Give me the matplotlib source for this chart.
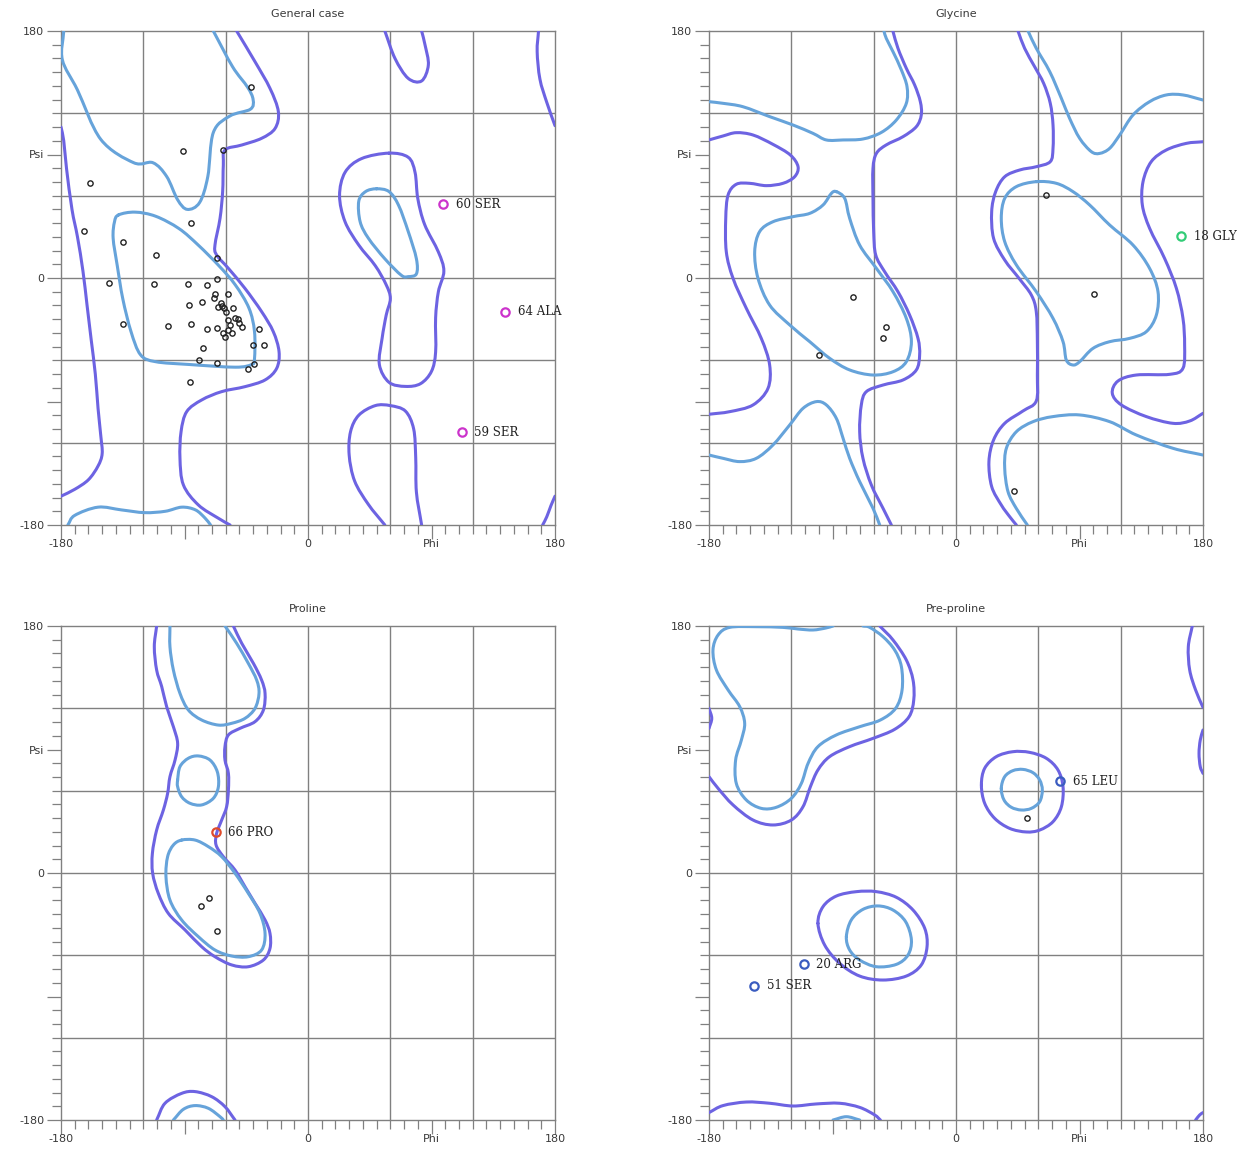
import numpy as np
import matplotlib
matplotlib.use("Agg")
import matplotlib.pyplot as plt
from matplotlib.path import Path
from matplotlib.patches import PathPatch

# ---------------- data (phi, psi in degrees) ----------------
# General case
gen_outer_left = [(-180, 110), (-178, 100), (-176, 80), (-172, 50), (-168, 30), (-164, 5), (-161, -20),
                  (-158, -45), (-155, -70), (-153, -95), (-151, -115), (-150, -128), (-153, -137),
                  (-160, -147), (-170, -154), (-180, -159)]
gen_outer_wrap_bottom = [(180, -159), (177, -166), (174, -174), (171, -180)]
gen_outer_wrap_top = [(168, 180), (167, 165), (169, 145), (174, 128), (180, 111)]
gen_outer_right = [(-52, 180), (-38.6, 157.6), (-27.7, 138.2), (-21.6, 121.2), (-24, 109), (-33.8, 101.8),
                   (-48.3, 96.9), (-60.5, 93.3), (-61.7, 82.3), (-62.2, 62.9), (-64.1, 43.5), (-67.8, 24),
                   (-66.6, 16.8), (-58, 7), (-46, -7.5), (-33.8, -24.5), (-25.3, -39.1), (-21.1, -53.7),
                   (-22.8, -65.8), (-31.3, -74.3), (-46, -79.2), (-62.9, -82.8), (-77.5, -88.9),
                   (-88.4, -97.4), (-92.5, -112), (-93.3, -131.4), (-90.8, -150.8), (-79.9, -165.4),
                   (-65.3, -175.1), (-56.8, -180)]
gen_outer_top_u = [(56, 180), (63.4, 160), (73, 145.5), (82.8, 143.6), (87.7, 155.2), (85.3, 169.8), (82.8, 180)]
gen_outer_bottom = [(56, -180), (44, -165), (34, -148), (30, -129), (31, -112), (37, -100), (49, -93),
                    (60, -93), (71, -97), (77, -110), (78.5, -131), (79, -156), (82.8, -180)]
gen_outer_alphaL = [(59, 91), (73, 88), (78, 77), (80, 58), (85, 39), (95, 19), (99, 5), (95, -10),
                    (93, -29), (93, -54), (90, -68), (82, -77), (71, -79), (59, -76), (52, -63), (54, -44),
                    (57, -27), (60, -15), (57, -5), (49, 9), (37, 24), (27, 41), (23, 60), (27, 77), (39, 87)]
gen_inner_beta = [(-178, 180), (-179, 159), (-168, 137), (-151, 101), (-127, 84), (-113, 84), (-103, 74),
                  (-95, 57), (-88, 50), (-79, 55), (-73, 74), (-69, 106), (-57, 118), (-42, 123), (-40, 130),
                  (-44, 139), (-55, 154), (-69, 180)]
gen_inner_beta_bottom = [(-175, -180), (-170, -173), (-153, -167), (-136, -169), (-119, -171), (-104, -170),
                         (-92, -167), (-82, -169), (-75, -175), (-71, -180)]
gen_inner_alphaR = [(-138, 46), (-126, 48), (-111, 45), (-94, 36), (-80, 24), (-65, 9), (-53, -5), (-43, -22),
                    (-39, -39), (-39, -59), (-41, -63), (-53, -65), (-87, -63), (-111, -61), (-122, -56),
                    (-129, -39), (-135, -15), (-139, 9), (-142, 29), (-141, 41)]
gen_inner_alphaL = [(50, 65), (59, 63), (66, 53), (73, 34), (79, 14), (79, 3), (73, 1), (68, 2), (56, 14),
                    (44, 29), (38, 41), (37, 56), (42, 63)]
gen_phi = [-41.5, -91, -61.7, -158.9, -85.3, -163, -135, -111, -66.6, -145, -112, -87.7, -73.8, -66, -58,
           -67.8, -68.3, -86.7, -77, -65.3, -62.9, -61, -54.4, -53.2, -51.2, -58, -134.6, -101.8, -85.3,
           -73.8, -66.6, -58, -55.6, -60.5, -48.3, -35.7, -39.8, -31.8, -76.8, -79.2, -66.1, -39.6, -44,
           -86, -63.5, -60, -57, -62, -50]
gen_psi = [139.4, 92.5, 93.3, 69.5, 40.3, 34.2, 26.5, 16.8, 14.3, -3.4, -4.4, -4.4, -5.1, -1, -12,
           -12, -14.3, -19.7, -17.7, -20.9, -20.2, -22, -21.6, -28.9, -29.9, -30.6, -33.8, -34.7, -33.8,
           -37.4, -36.7, -37.9, -40.3, -42.7, -35.5, -37.2, -48.8, -48.8, -50.8, -59.8, -61.7, -62.9, -66.6,
           -75.5, -18, -25, -34, -40, -33]
gen_out_phi = [98.6, 143.6, 112]
gen_out_psi = [53.9, -24.5, -112.5]
gen_out_lab = ["60 SER", "64 ALA", "59 SER"]

# Glycine
gly_outer_1 = [(-46, 180), (-42.3, 167.4), (-36.2, 152.8), (-30.1, 140.6), (-26, 128.5), (-25.3, 118.8),
               (-28.9, 110.3), (-38.6, 103), (-50.8, 97), (-58, 90.8), (-60.5, 79.9), (-60.5, 58), (-60, 33.8),
               (-58.5, 16.8), (-52, 4.6), (-42.3, -10), (-33.8, -27), (-27.7, -44), (-26.5, -56.1),
               (-28.9, -67), (-38.6, -74.3), (-53.2, -78), (-65.3, -82.8), (-69, -92.5), (-70.2, -112),
               (-67.8, -131.4), (-61.7, -150.8), (-53.2, -167.8), (-47.1, -180)]
gly_outer_2 = [(45.2, 180), (50, 167.4), (57.3, 154), (63.9, 141.8), (68.7, 127.3), (70.7, 111.5), (70.7, 94.5),
               (68.7, 84.8), (58.5, 81.1), (46.4, 78.7), (35.5, 73.8), (28.9, 62.9), (26, 48.3), (27.4, 28.9),
               (35.5, 13.1), (45.9, -0.2), (54.9, -12.4), (58.5, -24.5), (59.3, -46.4), (59.3, -70.7),
               (58.5, -89.6), (48.8, -96.9), (35.5, -105.9), (27.4, -118), (24, -133.8), (26, -152),
               (33, -165.4), (39.1, -173.9), (44, -180)]
gly_outer_3 = [(-180, 100.6), (-169.8, 103.5), (-160.1, 105.9), (-147.9, 104.2), (-133.4, 97.4), (-120.7, 89.6),
               (-115.1, 81.1), (-117.6, 73.8), (-126.1, 69), (-138.2, 67.3), (-150.4, 69), (-160.1, 68.3),
               (-166.1, 60.5), (-167.8, 43.5), (-167.4, 19.2), (-162.5, -0.2), (-152.8, -22.1), (-141.9, -44),
               (-135.8, -63.4), (-137, -80.4), (-147.9, -92.5), (-164.9, -97.4), (-180, -99.3)]
gly_outer_4 = [(180, 99.3), (167.8, 98.1), (153.3, 93.3), (142.3, 84.8), (136.3, 70.2), (135.8, 53.2),
               (141.1, 36.2), (152, 14.3), (160.6, -7.5), (165.4, -29.4), (166.6, -48.8), (165.4, -65.8),
               (155.7, -70.2), (131.4, -70.7), (118, -75.1), (113.9, -84), (120.5, -92.5), (138.7, -101),
               (158.1, -105.9), (170.3, -104.2), (180, -98.6)]
gly_inner_1 = [(-180, 128.5), (-169.8, 127.3), (-155.2, 124.8), (-135.8, 117.6), (-118.8, 111.5), (-104.2, 105.4),
               (-94.5, 100.6), (-82.3, 100.6), (-67.8, 101.3), (-54.4, 106.1), (-43.5, 115.1), (-36.2, 127.3),
               (-35.7, 139.4), (-39.8, 151.6), (-45.9, 164.9), (-50.8, 174.6), (-52.5, 180)]
gly_inner_2 = [(-180, -129), (-169.8, -131.4), (-157.6, -133.8), (-145.5, -131.4), (-133.4, -121.7),
               (-121.2, -107.1), (-111.5, -95), (-101.8, -90.1), (-94.5, -92.5), (-87.2, -102.3),
               (-82.3, -116.8), (-77.5, -131.4), (-70.2, -148.4), (-60.5, -167.8), (-55.6, -180)]
gly_inner_3 = [(52.5, 180), (58.5, 167.4), (68.3, 150.4), (76.8, 130.9), (82.8, 116.3), (90.1, 101.8),
               (98.6, 92.1), (104.7, 90.8), (112, 94.5), (119.3, 104.2), (129, 118.8), (141.1, 128.5),
               (153.3, 133.4), (165.4, 133.4), (180, 129.7)]
gly_inner_4 = [(180, -129), (158.1, -124.1), (131.4, -114.4), (112, -104.7), (90.1, -99.8), (70.7, -101),
               (56.1, -104.7), (44, -112), (36.7, -124.1), (35.5, -138.7), (37.9, -155.7), (44, -168), (52, -180)]
gly_inner_alphaL = [(58.5, 70.2), (73.1, 69), (85.3, 62.9), (97.4, 53.2), (112, 38.6), (129, 24), (141.1, 7),
                    (147.2, -10), (146, -27), (138.7, -39.1), (126.5, -44), (112, -46.4), (99.8, -51.3),
                    (90.1, -61), (85.3, -63.4), (80.4, -59.8), (78, -46.4), (70.7, -29.4), (58.5, -10),
                    (44, 9.5), (35.5, 26.5), (33, 43.5), (35.5, 58), (44, 66.6)]
gly_inner_alphaR = [(-87.2, 62.9), (-81.1, 58), (-77.5, 43.5), (-70.2, 24), (-58, 7), (-45.9, -10),
                    (-36.2, -29.4), (-32.5, -46.4), (-36.2, -61), (-45.9, -68.3), (-60.5, -70.7), (-77.5, -67),
                    (-92.1, -58.5), (-106.6, -46.4), (-121.2, -34.2), (-135.8, -19.7), (-144.3, -0.2),
                    (-146.7, 19.2), (-143.1, 33.8), (-133.4, 41), (-118.8, 44.7), (-106.6, 47.1),
                    (-96.9, 53.2), (-90.8, 61.7)]
gly_phi = [65.8, -75, -51.2, -53.2, -100, 100.3, 42]
gly_psi = [60.5, -13.6, -35.5, -43.5, -56, -11.7, -155]
gly_out_phi = [164]
gly_out_psi = [30.6]
gly_out_lab = ["18 GLY"]

# Proline
pro_outer = [(-110.3, 180), (-112, 164.9), (-110.3, 147.9), (-106.6, 135.8), (-103, 121.2), (-98.1, 106.6),
             (-95, 94.5), (-96.9, 82.3), (-100.6, 70.2), (-102.3, 58), (-105.4, 45.9), (-110.3, 31.3),
             (-113.4, 14.3), (-113.2, -0.2), (-109.1, -14.8), (-101.8, -29.4), (-89.6, -41.5), (-77.5, -53.7),
             (-67.8, -61), (-55.6, -67), (-43.5, -68.3), (-32.5, -63.4), (-27.7, -54.9), (-27.7, -44),
             (-31.3, -34.2), (-38.6, -22.1), (-45.9, -10), (-53.2, 2.2), (-61.7, 11.9), (-67, 20.4),
             (-66.6, 28.9), (-62.9, 38.6), (-59.3, 48.3), (-58, 60.5), (-58, 72.6), (-60.5, 82.3),
             (-60.5, 92.1), (-58, 100.6), (-49.6, 105.4), (-38.6, 110.3), (-32.5, 118.8), (-31.3, 130.9),
             (-33.8, 140.6), (-39.8, 152.8), (-48.3, 167.4), (-54.4, 180)]
pro_outer_bottom = [(-110.3, -180), (-104.2, -167.8), (-92.1, -160.6), (-82.3, -159.3), (-70.2, -163),
                    (-60.5, -170.3), (-53.2, -180)]
pro_inner_beta = [(-100.6, 180), (-100.6, 164.9), (-98.1, 147.9), (-93.3, 130.9), (-87.2, 118.8), (-77.5, 111.5),
                  (-65.3, 107.8), (-55.6, 109.1), (-45.9, 112.7), (-38.6, 120), (-35.7, 130.9), (-37.4, 140.6),
                  (-43.5, 152.8), (-52, 167.4), (-60.5, 180)]
pro_inner_ring = [(-95, 67.8), (-93.3, 77.5), (-87.2, 83.6), (-79.9, 85.3), (-71.4, 82.3), (-66.1, 73.8),
                  (-65.3, 62.9), (-69, 54.4), (-77.5, 49.6), (-86, 50.8), (-92.1, 55.6), (-95, 62.9)]
pro_inner_alpha = [(-92.1, 24), (-82.3, 24), (-72.6, 19.2), (-62.9, 11.9), (-53.2, -0.2), (-43.5, -14.8),
                   (-35, -29.4), (-31.3, -44), (-33.8, -56.1), (-43.5, -61), (-55.6, -60.5), (-67.8, -56.1),
                   (-79.9, -46.4), (-92.1, -34.2), (-100.6, -19.7), (-103.5, -2.7), (-102.3, 11.9), (-98.1, 20.4)]
pro_inner_bottom = [(-98.1, -180), (-90.8, -172.2), (-82.3, -169.5), (-72.6, -171.5), (-64.1, -177.6), (-61.7, -180)]
pro_phi = [-78, -72, -66.6]
pro_psi = [-24, -18.5, -42.3]
pro_out_phi = [-67.3]
pro_out_psi = [29.6]
pro_out_lab = ["66 PRO"]

# Pre-proline
pre_outer_beta = [(-55.6, 180), (-45.9, 169.8), (-36.2, 155.2), (-31.3, 140.6), (-30.8, 126.1), (-34.2, 113.9),
                  (-44.7, 104.7), (-60.5, 98.1), (-77.5, 92.1), (-92.1, 84.8), (-100.6, 75.1), (-106.1, 62.9),
                  (-111.5, 48.3), (-120, 38.6), (-133.4, 35), (-147.9, 38.6), (-162.5, 49.6), (-173.4, 61.7),
                  (-180, 70.2)]
pre_outer_edge_r = [(180, 104.2), (178, 96.9), (177.1, 87.2), (178, 77.5), (180, 72.6)]
pre_outer_edge_l = [(-180, 120), (-178, 112.7), (-180, 105.4)]
pre_outer_top_r = [(172.2, 180), (169.3, 164.9), (170.3, 147.9), (174.6, 133.4), (180, 120.7)]
pre_outer_bottom = [(-180, -174.6), (-169.8, -169.5), (-152.8, -166.9), (-135.8, -167.8), (-118.8, -169.8),
                    (-101.8, -168.3), (-84.8, -167.8), (-70.2, -170.8), (-59.3, -176.3), (-55.1, -180)]
pre_outer_corner = [(174.6, -180), (177.6, -176.3), (180, -174.6)]
pre_outer_alphaL = [(18.5, 64.1), (20.9, 76.3), (29.4, 84.8), (41.5, 88.4), (53.7, 87.9), (65.8, 83.6),
                    (74.3, 75.1), (78, 62.9), (76.8, 48.3), (70.7, 37.4), (61, 31.3), (51.3, 29.9), (39.1, 32.5),
                    (28.2, 39.8), (20.9, 50.8)]
pre_outer_alphaR = [(-100.6, -36.7), (-96.9, -24.5), (-87.2, -16.8), (-72.6, -13.6), (-58, -13.6), (-43.5, -17.7),
                    (-31.3, -27), (-22.8, -40.3), (-21.1, -53.7), (-25.3, -67), (-36.2, -75.1), (-53.2, -78),
                    (-70.2, -75.1), (-84.8, -65.8), (-95.7, -52.5)]
pre_inner_beta = [(-67.8, 180), (-62.9, 179), (-53.2, 172.2), (-44.7, 162.5), (-39.8, 150.4), (-39.3, 133.4),
                  (-44, 120), (-55.1, 111.5), (-70.2, 106.6), (-87.2, 100.6), (-100.6, 92.1), (-107.8, 79.9),
                  (-112.7, 65.3), (-120, 54.4), (-130.9, 47.9), (-141.9, 47.1), (-152.8, 53.2), (-160.1, 65.3),
                  (-160.6, 82.3), (-156.4, 96.9), (-154, 109.1), (-157.6, 121.2), (-166.1, 133.4),
                  (-174.6, 147.9), (-177.1, 162.5), (-173.4, 173.4), (-164.9, 179), (-145.5, 179.5),
                  (-126.1, 179), (-115.1, 177.8), (-104.2, 177.1), (-95, 178.5), (-89.6, 180)]
pre_inner_bottom = [(-89.6, -180), (-79.9, -177.6), (-70.2, -180)]
pre_inner_alphaL = [(33, 61.7), (35.5, 70.2), (41.5, 74.6), (48.8, 75.5), (56.1, 73.1), (61, 67.8), (62.9, 60.5),
                    (61, 52), (54.9, 47.1), (47.6, 45.9), (40.3, 47.9), (35, 53.2)]
pre_inner_alphaR = [(-79.9, -46.4), (-76.3, -34.2), (-67.8, -26.5), (-56.8, -24), (-45.9, -27), (-36.7, -35.5),
                    (-32.5, -48.8), (-35, -59.8), (-43.5, -66.6), (-58, -68.3), (-70.2, -63.4), (-77.5, -56.1)]
pre_phi = [52]
pre_psi = [40.3]
pre_out_phi = [76, -111, -147.2]
pre_out_psi = [67, -66.6, -82.1]
pre_out_lab = ["65 LEU", "20 ARG", "51 SER"]

titles = ["General case", "Glycine", "Proline", "Pre-proline"]
tick_vals = [-180, -90, 0, 90, 180]
x_tick_labels = ["-180", "", "0", "Phi", "180"]
y_tick_labels = ["-180", "", "0", "Psi", "180"]
grid_vals = [-120, -60, 0, 60, 120]

# ---------------- styling ----------------
OUTER = "#6d63e2"
INNER = "#66a3da"
GRID = "#808080"
TXT = "#3a3a3a"


def smooth_path(pts, closed):
    P = np.asarray(pts, float)
    if closed:
        ext = np.vstack([P[-1], P, P[0], P[1]])
    else:
        ext = np.vstack([2 * P[0] - P[1], P, 2 * P[-1] - P[-2]])
    verts = [ext[1]]
    codes = [Path.MOVETO]
    for i in range(1, len(ext) - 2):
        p0, p1, p2, p3 = ext[i - 1], ext[i], ext[i + 1], ext[i + 2]
        verts += [p1 + (p2 - p0) / 6.0, p2 - (p3 - p1) / 6.0, p2]
        codes += [Path.CURVE4] * 3
    return Path(verts, codes)


def draw(ax, pts, color, closed=False):
    ax.add_patch(PathPatch(smooth_path(pts, closed), fill=False, edgecolor=color, lw=2.2,
                           capstyle="round", joinstyle="round", zorder=3))


def setup(ax, title):
    ax.set_xlim(-180, 180)
    ax.set_ylim(-180, 180)
    ax.set_xticks(tick_vals)
    ax.set_xticklabels(x_tick_labels)
    ax.set_yticks(tick_vals)
    ax.set_yticklabels(y_tick_labels)
    ax.set_xticks(np.arange(-180, 181, 10), minor=True)
    ax.set_yticks(np.arange(-180, 181, 10), minor=True)
    ax.tick_params(which="major", length=10, width=0.9, color=GRID, labelsize=8,
                   labelcolor=TXT, pad=2, direction="out")
    ax.tick_params(axis="x", which="major", pad=0)
    ax.tick_params(which="minor", length=6.5, width=0.9, color=GRID, direction="out")
    for s in ax.spines.values():
        s.set_color(GRID)
        s.set_linewidth(1.0)
    for g in grid_vals:
        ax.axvline(g, color=GRID, lw=1.0, zorder=1)
        ax.axhline(g, color=GRID, lw=1.0, zorder=1)
    for lab in ax.get_xticklabels() + ax.get_yticklabels():
        lab.set_family("DejaVu Sans")
    ax.text(0.5, 1.034, title, transform=ax.transAxes, ha="center", va="center",
            fontsize=8, color=TXT, family="DejaVu Sans")


def points(ax, phi, psi, ophi, opsi, olab, ocol):
    ax.plot(phi, psi, "o", ms=3.8, mfc="none", mec="#222222", mew=1.0, zorder=4, clip_on=False)
    ax.plot(ophi, opsi, "o", ms=6, mfc="none", mec=ocol, mew=1.6, zorder=5, clip_on=False)
    for x, y, t in zip(ophi, opsi, olab):
        ax.annotate(t, (x, y), xytext=(9, 0), textcoords="offset points", ha="left", va="center",
                    fontsize=8.5, family="DejaVu Serif", color="#222222", zorder=6)


fig = plt.figure(figsize=(12.48, 11.6), dpi=100)
W, H = 1248.0, 1160.0
pos = [(61, 31), (709, 31), (61, 626), (709, 626)]
axes = []
for (x0, y0) in pos:
    axes.append(fig.add_axes([x0 / W, 1 - (y0 + 494) / H, 494 / W, 494 / H]))

# General case
ax = axes[0]
setup(ax, titles[0])
for p in [gen_outer_left, gen_outer_wrap_bottom, gen_outer_wrap_top, gen_outer_right, gen_outer_top_u,
          gen_outer_bottom]:
    draw(ax, p, OUTER)
draw(ax, gen_outer_alphaL, OUTER, closed=True)
for p in [gen_inner_beta, gen_inner_beta_bottom]:
    draw(ax, p, INNER)
draw(ax, gen_inner_alphaR, INNER, closed=True)
draw(ax, gen_inner_alphaL, INNER, closed=True)
points(ax, gen_phi, gen_psi, gen_out_phi, gen_out_psi, gen_out_lab, "#cc33cc")

# Glycine
ax = axes[1]
setup(ax, titles[1])
for p in [gly_outer_1, gly_outer_2, gly_outer_3, gly_outer_4]:
    draw(ax, p, OUTER)
for p in [gly_inner_1, gly_inner_2, gly_inner_3, gly_inner_4]:
    draw(ax, p, INNER)
draw(ax, gly_inner_alphaL, INNER, closed=True)
draw(ax, gly_inner_alphaR, INNER, closed=True)
points(ax, gly_phi, gly_psi, gly_out_phi, gly_out_psi, gly_out_lab, "#33cc77")

# Proline
ax = axes[2]
setup(ax, titles[2])
draw(ax, pro_outer, OUTER)
draw(ax, pro_outer_bottom, OUTER)
draw(ax, pro_inner_beta, INNER)
draw(ax, pro_inner_ring, INNER, closed=True)
draw(ax, pro_inner_alpha, INNER, closed=True)
draw(ax, pro_inner_bottom, INNER)
points(ax, pro_phi, pro_psi, pro_out_phi, pro_out_psi, pro_out_lab, "#e04a2a")

# Pre-proline
ax = axes[3]
setup(ax, titles[3])
for p in [pre_outer_beta, pre_outer_edge_r, pre_outer_edge_l, pre_outer_top_r, pre_outer_bottom,
          pre_outer_corner]:
    draw(ax, p, OUTER)
draw(ax, pre_outer_alphaL, OUTER, closed=True)
draw(ax, pre_outer_alphaR, OUTER, closed=True)
draw(ax, pre_inner_beta, INNER)
draw(ax, pre_inner_bottom, INNER)
draw(ax, pre_inner_alphaL, INNER, closed=True)
draw(ax, pre_inner_alphaR, INNER, closed=True)
points(ax, pre_phi, pre_psi, pre_out_phi, pre_out_psi, pre_out_lab, "#3a5cc0")

fig.savefig("out.png", dpi=100, facecolor="white")
